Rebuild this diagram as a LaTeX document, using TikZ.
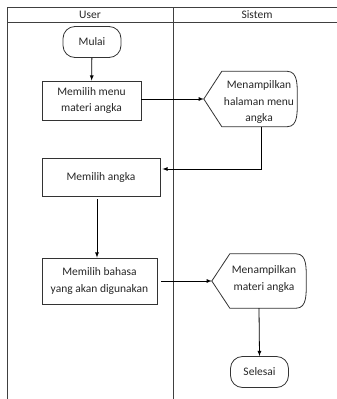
\documentclass[tikz,border=0pt]{standalone}
\usepackage{fontspec}
\setmainfont{Carlito}
\usetikzlibrary{positioning}

\begin{document}
\begin{tikzpicture}[x=1pt,y=-1pt,
		every node/.style={font=\fontsize{11.5}{16.5}\selectfont, text=black!85},
		lane/.style={draw=black!75, line width=0.9pt},
		proses/.style={draw=black!80, line width=0.8pt, minimum width=99, minimum height=39, align=center},
		terminal/.style={draw=black!80, line width=0.8pt, rounded corners=12pt, minimum width=58, minimum height=31},
		tampil/.style={align=center, inner sep=0pt},
		garis/.style={draw=black!80, line width=0.8pt},
		alur/.style={-latex, black, line width=0.8pt}]
	\useasboundingbox (0,0) rectangle (337,399);
	% kolom
	\draw[lane] (7.5,399) -- (7.5,7.5) -- (337,7.5);
	\draw[lane] (7.5,22) -- (337,22);
	\draw[lane] (173,7.5) -- (173,399);
	\node (user) at (90,15) {User};
	\node (sistem) at (257,15) {Sistem};
	% user
	\node[terminal] (mulai) at (92,42) {Mulai};
	\node[proses] (menu) at (91.5,100.5) {Memilih menu\\materi angka};
	\node[proses, minimum width=118, minimum height=38] (angka) at (101,177) {Memilih angka};
	\node[proses, minimum width=115, minimum height=46] (bahasa) at (99.5,281) {Memilih bahasa\\yang akan digunakan};
	% sistem
	\node[tampil, minimum width=93, minimum height=55] (tampilmenu) at (250.5,99) {};
	\node[tampil] at (259,102) {Menampilkan\\halaman menu\\angka};
	\draw[garis] (tampilmenu.west) -- ([xshift=18]tampilmenu.north west) -- ([xshift=-10]tampilmenu.north east)
		to[out=0,in=90] (tampilmenu.east) to[out=-90,in=0] ([xshift=-10]tampilmenu.south east)
		-- ([xshift=18]tampilmenu.south west) -- cycle;
	\node[tampil, minimum width=94, minimum height=54] (tampilmateri) at (259,281) {};
	\node[tampil] at (264,279) {Menampilkan\\materi angka};
	\draw[garis] (tampilmateri.west) -- ([xshift=18]tampilmateri.north west) -- ([xshift=-10]tampilmateri.north east)
		to[out=0,in=90] (tampilmateri.east) to[out=-90,in=0] ([xshift=-10]tampilmateri.south east)
		-- ([xshift=18]tampilmateri.south west) -- cycle;
	\node[terminal] (selesai) at (259.5,372) {Selesai};
	% alur
	\draw[alur] (mulai) -- (menu);
	\draw[alur] (menu.east |- tampilmenu.west) -- (tampilmenu.west);
	\draw[alur] ([xshift=11]tampilmenu.south) |- ([yshift=8,xshift=2]angka.east);
	\draw[alur] ([xshift=-4,yshift=-3]angka.south) -- ([xshift=-2.5]bahasa.north);
	\draw[alur] ([xshift=4]bahasa.east) -- (tampilmateri.west);
	\draw[alur] (tampilmateri.south) -- (selesai.north);
\end{tikzpicture}
\end{document}
